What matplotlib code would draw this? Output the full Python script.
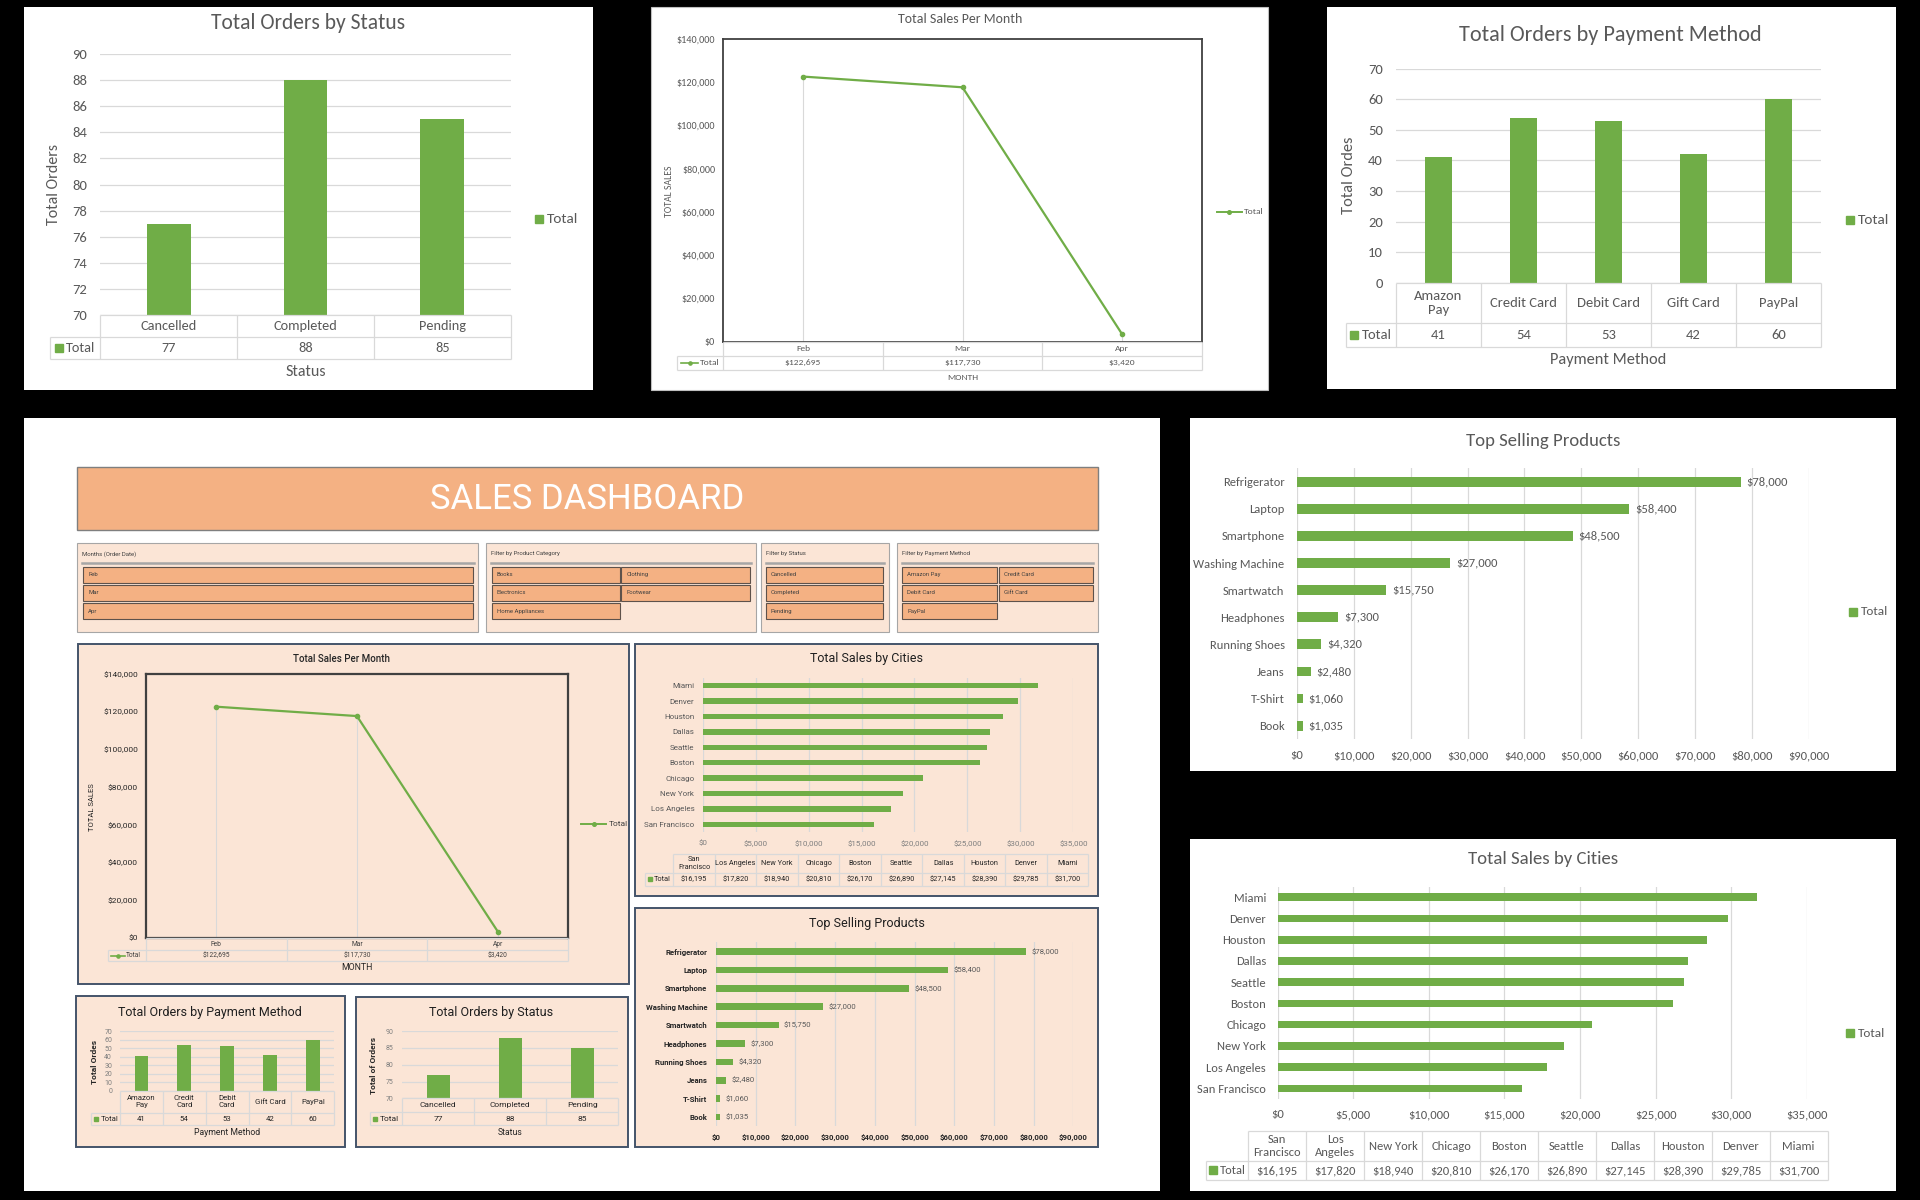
import matplotlib
matplotlib.use("Agg")
import matplotlib.pyplot as plt
from matplotlib import font_manager
from matplotlib.patches import Rectangle
from matplotlib.ticker import FuncFormatter, MultipleLocator

# ---- data ----
status_names = ["Cancelled", "Completed", "Pending"]
status_orders = [77, 88, 85]

months = ["Feb", "Mar", "Apr"]
month_sales = [122695, 117730, 3420]

pay_methods = ["Amazon\nPay", "Credit Card", "Debit Card", "Gift Card", "PayPal"]
pay_methods_dash = ["Amazon\nPay", "Credit\nCard", "Debit\nCard", "Gift Card", "PayPal"]
pay_orders = [41, 54, 53, 42, 60]

products = ["Book", "T-Shirt", "Jeans", "Running Shoes", "Headphones",
            "Smartwatch", "Washing Machine", "Smartphone", "Laptop", "Refrigerator"]
product_sales = [1035, 1060, 2480, 4320, 7300, 15750, 27000, 48500, 58400, 78000]

cities = ["San Francisco", "Los Angeles", "New York", "Chicago", "Boston",
          "Seattle", "Dallas", "Houston", "Denver", "Miami"]
city_heads_right = ["San\nFrancisco", "Los\nAngeles", "New York", "Chicago", "Boston",
                    "Seattle", "Dallas", "Houston", "Denver", "Miami"]
city_heads_dash = ["San\nFrancisco", "Los Angeles", "New York", "Chicago", "Boston",
                   "Seattle", "Dallas", "Houston", "Denver", "Miami"]
city_sales = [16195, 17820, 18940, 20810, 26170, 26890, 27145, 28390, 29785, 31700]

slicer_months = ["Feb", "Mar", "Apr"]
slicer_categories = ["Books", "Clothing", "Electronics", "Footwear", "Home Appliances"]
slicer_status = ["Cancelled", "Completed", "Pending"]
slicer_payment = ["Amazon Pay", "Credit Card", "Debit Card", "Gift Card", "PayPal"]

# ---- look ----
W, H = 1568, 980          # layout units
GREEN = "#70AD47"
GREY = "#595959"
GRID = "#D9D9D9"
PEACH = "#FBE5D6"
ORANGE = "#F4B183"
NAVY = "#44546A"

_names = {f.name for f in font_manager.fontManager.ttflist}


def pick(*fams):
    for f in fams:
        if f in _names:
            return f
    return "DejaVu Sans"


XL = pick("Carlito", "Lato", "Open Sans")        # calibri-ish
AP = pick("Roboto", "Inter", "Noto Sans")        # aptos-ish
NARROW = pick("Liberation Sans Narrow", "Roboto")

dollars = FuncFormatter(lambda v, p: f"${v:,.0f}")

fig = plt.figure(figsize=(19.2, 12), dpi=100)
fig.patch.set_facecolor("black")

bg = fig.add_axes([0, 0, 1, 1])
bg.set_xlim(0, W)
bg.set_ylim(H, 0)
bg.axis("off")


def rect_of(x0, y0, x1, y1):
    return [x0 / W, 1 - y1 / H, (x1 - x0) / W, (y1 - y0) / H]


def new_ax(x0, y0, x1, y1):
    ax = fig.add_axes(rect_of(x0, y0, x1, y1))
    ax.set_facecolor("none")
    return ax


def box(x0, y0, x1, y1, fc, ec=None, lw=0.0):
    bg.add_patch(Rectangle((x0, y0), x1 - x0, y1 - y0, fc=fc,
                           ec=ec if ec else fc, lw=lw, zorder=1))


def txt(x, y, s, size, color=GREY, font=XL, ha="center", va="center", **kw):
    bg.text(x, y, s, fontsize=size, color=color, family=font, ha=ha, va=va, zorder=5, **kw)


def side_key(x, y, size, font, color=GREY, line=False, ms=6):
    if line:
        bg.plot([x, x + 20], [y, y], color=GREEN, lw=1.4, zorder=5)
        bg.plot(x + 10, y, "o", ms=2.6, color=GREEN, zorder=5)
        txt(x + 22, y, "Total", size, color, font, ha="left")
    else:
        bg.plot(x, y, "s", ms=ms, color=GREEN, zorder=5)
        txt(x + 6.5, y, "Total", size, color, font, ha="left")


def style_ticks(ax, font, size, color, weight="normal"):
    for lab in ax.get_xticklabels() + ax.get_yticklabels():
        lab.set_family(font)
        lab.set_fontsize(size)
        lab.set_color(color)
        lab.set_weight(weight)


def vbars(area, vals, lo, hi, step, size, font, color, pad):
    ax = new_ax(*area)
    ax.bar(range(len(vals)), vals, width=0.32, color=GREEN, zorder=3)
    ax.set_xlim(-0.5, len(vals) - 0.5)
    ax.set_ylim(lo, hi)
    ax.yaxis.set_major_locator(MultipleLocator(step))
    ax.grid(axis="y", color=GRID, lw=0.9)
    ax.set_axisbelow(True)
    for s in ax.spines.values():
        s.set_visible(False)
    ax.set_xticks([])
    ax.tick_params(axis="y", length=0, pad=pad)
    style_ticks(ax, font, size, color)
    return ax


def line_chart(area, vals, size, font, color, pad, frame_lw, weight="normal"):
    ax = new_ax(*area)
    x = range(len(vals))
    ax.vlines(x, 0, vals, color=GRID, lw=0.8, zorder=1)
    ax.plot(x, vals, color=GREEN, lw=1.6, marker="o", ms=3, zorder=3)
    ax.set_xlim(-0.5, len(vals) - 0.5)
    ax.set_ylim(0, 140000)
    ax.yaxis.set_major_locator(MultipleLocator(20000))
    ax.yaxis.set_major_formatter(dollars)
    ax.set_xticks([])
    ax.tick_params(axis="y", length=0, pad=pad)
    for s in ax.spines.values():
        s.set_color("#404040")
        s.set_linewidth(frame_lw)
    style_ticks(ax, font, size, color, weight)
    return ax


def hbars(area, labels, vals, xmax, step, size, font, lab_color, tick_color,
          ypad, xpad, lab_weight="normal", tick_weight="normal", value_labels=None):
    ax = new_ax(*area)
    n = len(vals)
    bars = ax.barh(range(n), vals, height=0.36, color=GREEN, zorder=3)
    ax.set_ylim(-0.5, n - 0.5)
    ax.set_yticks(range(n))
    ax.set_yticklabels(labels)
    ax.set_xlim(0, xmax)
    ax.xaxis.set_major_locator(MultipleLocator(step))
    ax.xaxis.set_major_formatter(dollars)
    ax.grid(axis="x", color=GRID, lw=0.9)
    ax.set_axisbelow(True)
    for s in ax.spines.values():
        s.set_visible(False)
    ax.tick_params(axis="y", length=0, pad=ypad)
    ax.tick_params(axis="x", length=0, pad=xpad)
    style_ticks(ax, font, size, tick_color, tick_weight)
    for lab in ax.get_yticklabels():
        lab.set_color(lab_color)
        lab.set_weight(lab_weight)
    if value_labels:
        ax.bar_label(bars, labels=value_labels, padding=4, fontsize=size,
                     color=GREY, family=font)
    return ax


def data_table(cell_x, x0, x1, ya, yb, yc, heads, vals, size, font, color,
               line=False, ms=5.5, line_color=GRID):
    n = len(heads)
    ax = new_ax(cell_x, ya, x1, yc)
    ax.axis("off")
    unit = (x1 - x0) / n
    lw_u = (x0 - cell_x) / unit
    left = -0.5 - lw_u
    ax.set_xlim(left, n - 0.5)
    ax.set_ylim(yc, ya)
    kw = dict(color=line_color, lw=0.9, clip_on=False)
    ax.hlines(ya, -0.5, n - 0.5, **kw)
    ax.hlines([yb, yc], left, n - 0.5, **kw)
    ax.vlines([i - 0.5 for i in range(n + 1)], ya, yc, **kw)
    ax.vlines(left, yb, yc, **kw)
    for i, (h, v) in enumerate(zip(heads, vals)):
        ax.text(i, (ya + yb) / 2, h, ha="center", va="center", fontsize=size,
                color=color, family=font, linespacing=1.15)
        ax.text(i, (yb + yc) / 2, v, ha="center", va="center", fontsize=size,
                color=color, family=font)
    ym = (yb + yc) / 2
    if line:
        ax.plot([left + 0.08 * lw_u, left + 0.46 * lw_u], [ym, ym], color=GREEN, lw=1.2)
        ax.plot(left + 0.27 * lw_u, ym, "o", ms=2.3, color=GREEN)
        ax.text(left + 0.49 * lw_u, ym, "Total", ha="left", va="center",
                fontsize=size, color=color, family=font)
    else:
        ax.plot(left + 0.17 * lw_u, ym, "s", ms=ms, color=GREEN, clip_on=False)
        ax.text(left + 0.32 * lw_u, ym, "Total", ha="left", va="center",
                fontsize=size, color=color, family=font)
    return ax


# ================= white panels =================
box(19.3, 6, 484, 318.5, "white")
box(532, 6, 1035.5, 318.5, "white", "#BFBFBF", 0.8)
box(1083.6, 6, 1548, 318, "white")
box(972, 341.6, 1548.6, 629.4, "white")
box(972, 685.5, 1548.6, 973, "white")
box(19.3, 341.7, 947, 973, "white")

# ================= A: Total Orders by Status =================
txt(251.6, 18.5, "Total Orders by Status", 15.5)
vbars((82, 44, 417, 257.5), status_orders, 70, 90, 2, 10.5, XL, GREY, 9.5)
data_table(41, 82, 417, 257.5, 275.5, 293.5, status_names,
           [str(v) for v in status_orders], 10.3, XL, GREY, ms=6)
txt(249.5, 304, "Status", 11.5)
txt(44.5, 151, "Total Orders", 11.5, rotation=90)
side_key(440, 179, 11, XL, ms=6)

# ================= B: Total Sales Per Month =================
txt(784, 15.5, "Total Sales Per Month", 10)
line_chart((590.5, 32, 981.6, 279), month_sales, 7.3, XL, GREY, 5.7, 1.3)
data_table(553, 590.5, 981.6, 279, 290.4, 302, months,
           [f"${v:,}" for v in month_sales], 6.8, XL, GREY, line=True)
txt(786, 308, "MONTH", 6.8)
txt(547, 156, "TOTAL SALES", 7, rotation=90)
side_key(994, 173, 6.8, XL, line=True)

# ================= C: Total Orders by Payment Method =================
txt(1315, 28.6, "Total Orders by Payment Method", 16)
vbars((1140, 56, 1487, 231), pay_orders, 0, 70, 10, 10.5, XL, GREY, 9.3)
data_table(1099, 1140, 1487, 231, 264, 283, pay_methods,
           [str(v) for v in pay_orders], 10.5, XL, GREY, ms=6)
txt(1313.5, 294, "Payment Method", 11.8)
txt(1102, 143, "Total Ordes", 11.8, rotation=90)
side_key(1511, 180, 11, XL, ms=6)

# ================= right: Top Selling Products =================
txt(1260, 360, "Top Selling Products", 13.5)
hbars((1059, 382.3, 1477.5, 603.7), products, product_sales, 90000, 10000,
      9, XL, GREY, GREY, 8.8, 7.8, value_labels=[f"${v:,}" for v in product_sales])
side_key(1513, 499.5, 9.5, XL, ms=5.5)

# ================= right: Total Sales by Cities =================
txt(1260, 701.7, "Total Sales by Cities", 13.5)
hbars((1043.4, 724.1, 1475.5, 897.5), cities, city_sales, 35000, 5000,
      9, XL, GREY, GREY, 8.3, 7.5)
data_table(985, 1019.5, 1492.5, 924, 948, 963.7, city_heads_right,
           [f"${v:,}" for v in city_sales], 9, XL, GREY, ms=5.5)
side_key(1511, 843.8, 9.5, XL, ms=5.5)

# ================= dashboard =================
box(62.5, 381.7, 896.8, 432.8, ORANGE, "#7F7F7F", 1.0)
txt(479.6, 408, "SALES DASHBOARD", 25, "white", NARROW)

slicers = [
    (63, 390.7, "Months (Order Date)", [(67.9, 386.5)], slicer_months),
    (396.7, 617, "Filter by Product Category", [(401.5, 506.3), (507.5, 612.3)], slicer_categories),
    (621.3, 726, "Filter by Status", [(625.5, 721.3)], slicer_status),
    (732.6, 896.8, "Filter by Payment Method", [(736.9, 814.1), (816, 892.6)], slicer_payment),
]
rows_y = [(462.8, 475.9), (477.7, 490.6), (492.7, 505.5)]
for x0, x1, title, cols, items in slicers:
    box(x0, 443.7, x1, 515.9, PEACH, "#A6A6A6", 0.8)
    txt(x0 + 4, 452.4, title, 4.3, "#404040", AP, ha="left")
    bg.plot([x0 + 4, x1 - 4], [460, 460], color="#A6A6A6", lw=1.8, zorder=3)
    for k, item in enumerate(items):
        bx0, bx1 = cols[k % len(cols)]
        y0, y1 = rows_y[k // len(cols)]
        bg.add_patch(Rectangle((bx0, y0), bx1 - bx0, y1 - y0, fc=ORANGE,
                               ec="#5E524B", lw=0.8, zorder=3))
        txt(bx0 + 4, (y0 + y1) / 2, item, 4.3, "#404040", AP, ha="left")

# sub panels
for area in [(63.6, 526, 513.7, 803.6), (518.6, 526, 896.8, 731.5),
             (518.6, 741.8, 896.8, 937), (62.4, 813.4, 281.7, 937),
             (290.5, 814, 513, 937)]:
    box(*area, PEACH, NAVY, 1.4)

# dashboard: Total Sales Per Month
txt(278.8, 538, "Total Sales Per Month", 7, "#262626", AP, weight="medium")
line_chart((119, 550.5, 464, 766), month_sales, 6, AP, "#262626", 5.6, 1.6)
data_table(87.8, 119, 464, 766, 776, 785, months,
           [f"${v:,}" for v in month_sales], 4.8, AP, "#404040", line=True)
txt(291.5, 790.5, "MONTH", 6.3, "#262626", AP)
txt(75.5, 659, "TOTAL SALES", 5.5, "#262626", AP, rotation=90)
side_key(474.8, 673, 6, AP, "#404040", line=True)

# dashboard: Total Sales by Cities
txt(707.8, 538, "Total Sales by Cities", 9, "#1F1F1F", AP)
hbars((573.8, 553.7, 876.6, 679.5), cities, city_sales, 35000, 5000,
      5.8, AP, GREY, "#7F7F7F", 6, 5.9)
data_table(526.8, 549.9, 888.8, 697.7, 713.2, 723.3, city_heads_dash,
           [f"${v:,}" for v in city_sales], 5.3, AP, "#262626", ms=3.5)

# dashboard: Top Selling Products
txt(707.8, 754.6, "Top Selling Products", 9, "#1F1F1F", AP)
hbars((584.7, 769.7, 876.6, 919.7), products, product_sales, 90000, 10000,
      5.6, AP, "#262626", "#262626", 6.3, 5.8, lab_weight="bold", tick_weight="bold",
      value_labels=[f"${v:,}" for v in product_sales])

# dashboard: Total Orders by Payment Method
txt(171.8, 826.7, "Total Orders by Payment Method", 9, "#1F1F1F", AP)
vbars((98, 842, 273, 890.7), pay_orders, 0, 70, 10, 5, AP, "#7F7F7F", 5.7)
data_table(74.7, 98, 273, 890.7, 908.7, 918.7, pay_methods_dash,
           [str(v) for v in pay_orders], 5.6, AP, "#262626", ms=3.5)
txt(185.5, 924.7, "Payment Method", 6.2, "#262626", AP)
txt(77, 867, "Total Ordes", 6, "#262626", AP, rotation=90, weight="bold")

# dashboard: Total Orders by Status
txt(401.3, 826.7, "Total Orders by Status", 9, "#1F1F1F", AP)
vbars((328.5, 842, 505, 897), status_orders, 70, 90, 5, 5, AP, "#7F7F7F", 6.6)
data_table(302, 328.5, 505, 897, 908, 919, status_names,
           [str(v) for v in status_orders], 6, AP, "#262626", ms=3.5)
txt(416.8, 925, "Status", 6.2, "#262626", AP)
txt(305, 870, "Total of Orders", 6, "#262626", AP, rotation=90, weight="bold")

fig.savefig("out.png", dpi=100, facecolor=fig.get_facecolor())
